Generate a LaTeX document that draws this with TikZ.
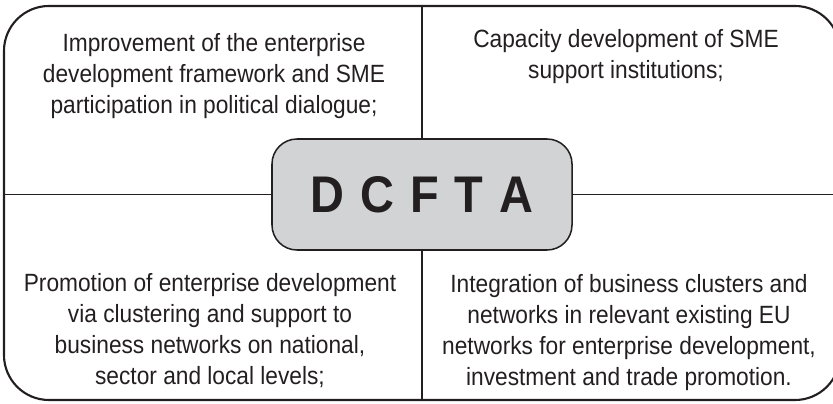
\documentclass[tikz,border=0pt]{standalone}
\usepackage{fontspec}
\setmainfont[FakeStretch=0.91]{Liberation Sans}
\usetikzlibrary{positioning}
\definecolor{inkgray}{RGB}{35,31,32}
\definecolor{boxgray}{RGB}{209,211,212}
\tikzstyle{frame} = [rectangle, rounded corners=1.35cm, draw=inkgray, line width=1.8pt, minimum width=25.08cm, minimum height=11.82cm, inner sep=0pt]
\tikzstyle{core} = [rectangle, rounded corners=0.75cm, draw=inkgray, line width=1.3pt, fill=boxgray, minimum width=9cm, minimum height=3.33cm, inner sep=0pt, text=inkgray, font=\fontsize{44}{44}\selectfont\bfseries]
\tikzstyle{field} = [align=center, anchor=base, inner sep=0pt, text=inkgray, font=\fontsize{21.3}{26.5}\selectfont]
\tikzstyle{divider} = [draw=inkgray, line width=1.1pt]

\begin{document}
\begin{tikzpicture}[x=0.03cm, y=-0.03cm]
		\useasboundingbox (0,0) rectangle (833,404);
		%框与中心
		\node (frame) [frame] at (422,203) {};
		\node (dcfta) [core] at (422,194.5) {D\hspace{2.4pt} C\hspace{2.4pt} F\hspace{2.4pt} T\hspace{2.4pt} A};
		
		%四个方面
		\node (tl) [field] at (214,114) {Improvement of the enterprise\\development framework and SME\\participation in political dialogue;};
		\node (tr) [field] at (626,79) {Capacity development of SME\\support institutions;};
		\node (bl) [field] at (210,385) {Promotion of enterprise development\\via clustering and support to\\business networks on national,\\sector and local levels;};
		\node (br) [field] at (629,386) {Integration of business clusters and\\networks in relevant existing EU\\networks for enterprise development,\\investment and trade promotion.};
		
		%分隔线
		\draw [divider](dcfta.north) -- (dcfta.north |- frame.north);
		\draw [divider](dcfta.south) -- (dcfta.south |- frame.south);
		\draw [divider](dcfta.west) -- (dcfta.west -| frame.west);
		\draw [divider](dcfta.east) -- (dcfta.east -| frame.east);
	\end{tikzpicture}
\end{document}
